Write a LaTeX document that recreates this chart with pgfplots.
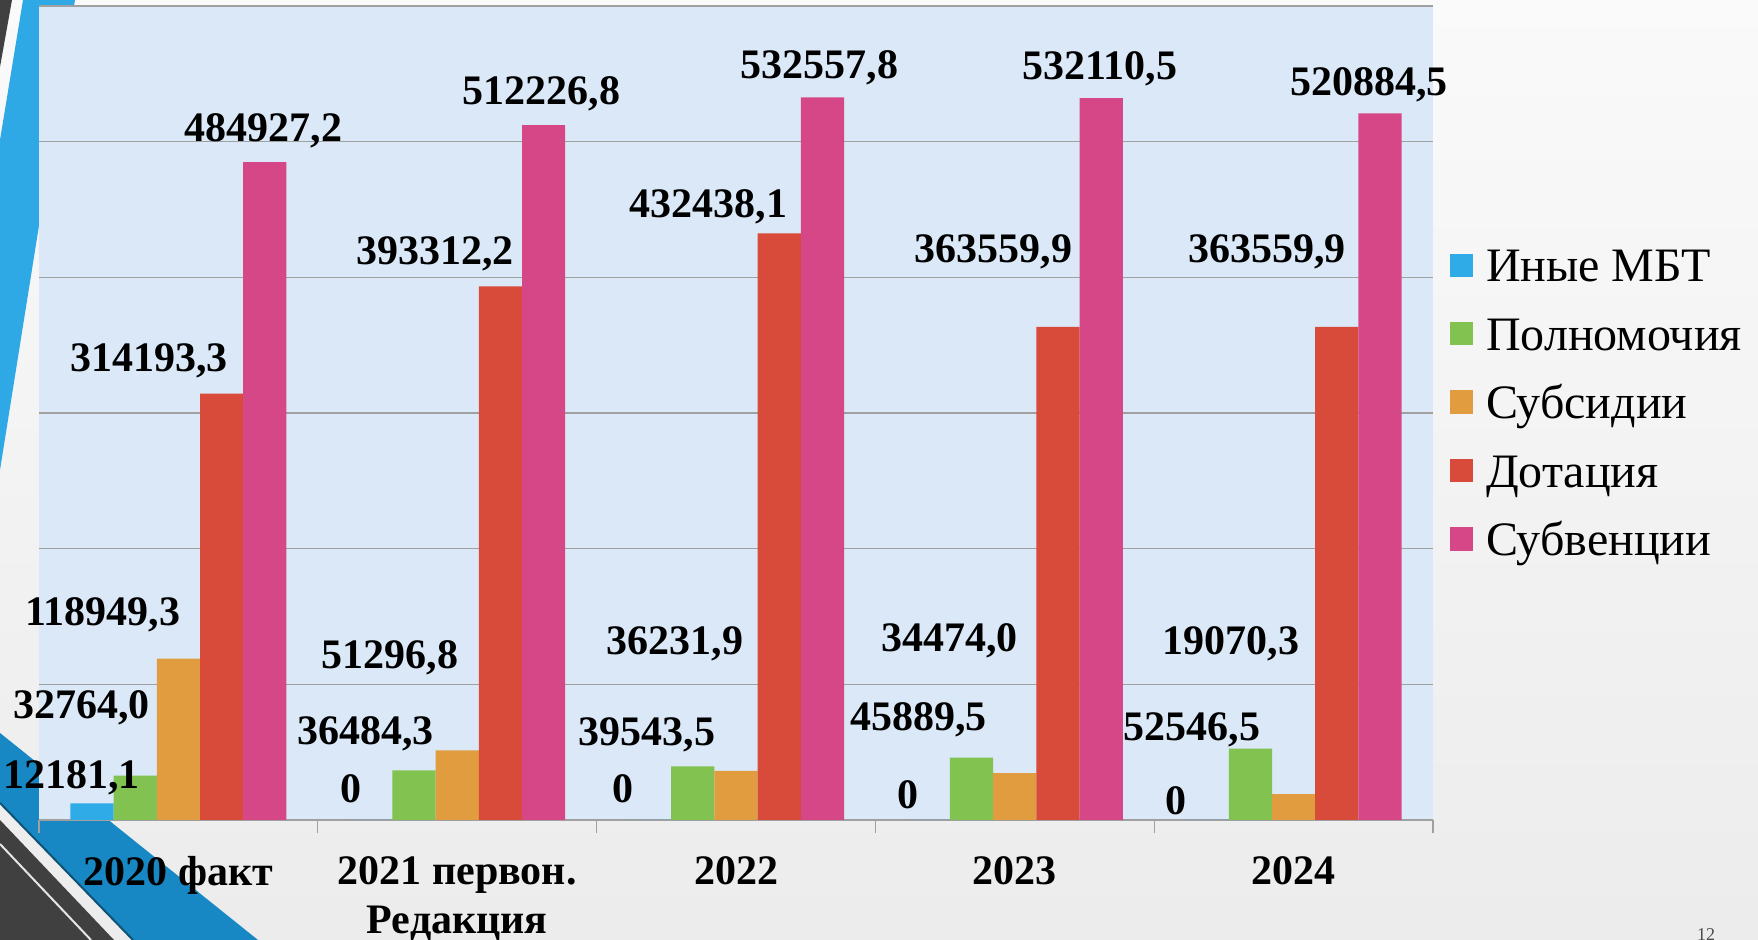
\documentclass[border=0pt]{standalone}
\usepackage{pgfplots}
\pgfplotsset{compat=1.18}
\usepackage{fontspec}
\setmainfont{Liberation Serif}
\definecolor{cMBT}{RGB}{47,171,232}
\definecolor{cPol}{RGB}{130,194,80}
\definecolor{cSub}{RGB}{226,156,64}
\definecolor{cDot}{RGB}{216,74,58}
\definecolor{cSbv}{RGB}{214,71,135}
\definecolor{axbg}{RGB}{218,232,247}
\definecolor{gridc}{RGB}{160,160,160}
\definecolor{deco}{RGB}{47,168,230}
\definecolor{decob}{RGB}{24,136,196}
\definecolor{decodark}{RGB}{64,64,64}
\newcommand{\lbl}{\bfseries\fontsize{21}{25}\selectfont}
\pgfplotstableread{
x y t
-0.383 33882 12181,1
-0.347 85119 32764,0
-0.271 153710 118949,3
-0.106 341303 314193,3
0.305 510715 484927,2
0.618 23139 0
0.671 66112 36484,3
0.759 122307 51296,8
0.920 419811 393312,2
1.302 537986 512226,8
1.596 23139 0
1.680 65286 39543,5
1.781 132224 36231,9
1.901 454520 432438,1
2.300 556994 532557,8
2.617 19007 0
2.654 76855 45889,5
2.766 134703 34474,0
2.923 421464 363559,9
3.305 556167 532110,5
3.579 14875 0
3.635 69418 52546,5
3.776 132224 19070,3
3.905 421464 363559,9
4.271 544598 520884,5
}\labels
\begin{document}
\begin{tikzpicture}
\useasboundingbox (-19.5pt,-60pt) rectangle (859.5pt,410pt);
\shade[top color=white!96!gray, bottom color=white!85!gray] (-19.5pt,-60pt) rectangle (859.5pt,410pt);
\fill[decodark] (-19.5pt,410pt) -- (-13.5pt,410pt) -- (-19.5pt,376.5pt) -- cycle;
\fill[deco] (-8pt,410pt) -- (18pt,410pt) -- (-19.5pt,175pt) -- (-19.5pt,340pt) -- cycle;
\fill[decob] (-19.5pt,43.5pt) -- (109.5pt,-60pt) -- (47pt,-60pt) -- (-19.5pt,8.5pt) -- cycle;
\draw[decob!60!black, line width=1pt] (-19.5pt,8.5pt) -- (47pt,-60pt);
\fill[decodark] (-19.5pt,0pt) -- (37.5pt,-60pt) -- (-19.5pt,-60pt) -- cycle;
\draw[white!80!gray, line width=1pt] (-19.5pt,-12pt) -- (26pt,-60pt);
\begin{axis}[
  at={(0pt,0pt)}, anchor=south west,
  scale only axis, width=697pt, height=407pt,
  xmin=-0.5, xmax=4.5, ymin=0, ymax=600000,
  clip=false,
  axis background/.style={fill=axbg},
  separate axis lines,
  axis x line*=bottom, axis y line*=left,
  x axis line style={draw=gridc, line width=0.6pt},
  y axis line style={draw=none},
  ytick={0,100000,...,600000}, yticklabels={},
  ytick style={draw=none},
  ymajorgrids, grid style={gridc, line width=0.6pt},
  xtick={0,1,2,3,4},
  xticklabels={2020 факт,{2021 первон.\\Редакция},2022,2023,2024},
  xtick style={draw=none},
  major tick length=6.5pt,
  tick align=outside,
  xticklabel style={font=\bfseries\fontsize{21}{24.7}\selectfont, align=center, anchor=north, inner sep=0pt, yshift=-11.4pt},
  extra x ticks={-0.5,0.5,1.5,2.5,3.5,4.5},
  extra x tick labels={},
  extra x tick style={xtick style={draw=gridc, line width=0.6pt}},
  legend style={at={(1.0122,0.7027)}, anchor=north west, draw=none, fill=none,
    inner sep=0pt, outer sep=0pt, font=\fontsize{24}{28}\selectfont,
    row sep=12.2pt, column sep=6.3pt,
    nodes={inner sep=0pt, text height=17pt, text depth=5pt},
    cells={anchor=base west}},
  legend image code/.code={\fill[#1] (0pt,2.5pt) rectangle (11.7pt,14.2pt);},
]
\addplot[ybar, bar width=0.155, bar shift=-0.31, fill=cMBT, draw=none] coordinates {(0,12181.1) (1,0) (2,0) (3,0) (4,0)};
\addlegendentry{Иные МБТ}
\addplot[ybar, bar width=0.155, bar shift=-0.155, fill=cPol, draw=none] coordinates {(0,32764.0) (1,36484.3) (2,39543.5) (3,45889.5) (4,52546.5)};
\addlegendentry{Полномочия}
\addplot[ybar, bar width=0.155, bar shift=0, fill=cSub, draw=none] coordinates {(0,118949.3) (1,51296.8) (2,36231.9) (3,34474.0) (4,19070.3)};
\addlegendentry{Субсидии}
\addplot[ybar, bar width=0.155, bar shift=0.155, fill=cDot, draw=none] coordinates {(0,314193.3) (1,393312.2) (2,432438.1) (3,363559.9) (4,363559.9)};
\addlegendentry{Дотация}
\addplot[ybar, bar width=0.155, bar shift=0.31, fill=cSbv, draw=none] coordinates {(0,484927.2) (1,512226.8) (2,532557.8) (3,532110.5) (4,520884.5)};
\addlegendentry{Субвенции}
\addplot[forget plot, only marks, mark=none, nodes near coords, point meta=explicit symbolic,
  nodes near coords align=center,
  nodes near coords style={font=\lbl, anchor=center, text height=14.3pt, text depth=0pt, inner sep=0pt, text=black}]
  table[x=x, y=y, meta=t] {\labels};
\end{axis}
\node[anchor=north, font=\fontsize{9}{10}\selectfont, text=black!70, inner sep=0pt] at (833.5pt,-54pt) {12};
\end{tikzpicture}
\end{document}
